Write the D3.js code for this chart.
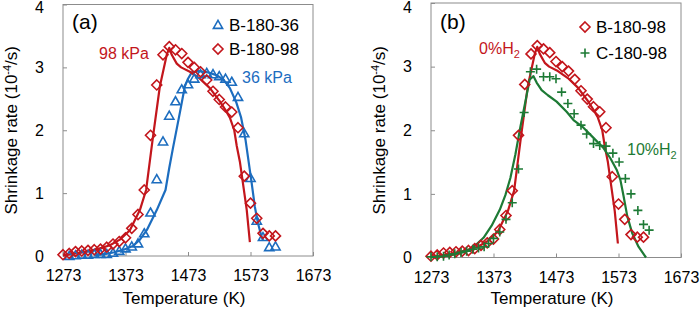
<!DOCTYPE html>
<html>
<head>
<meta charset="utf-8">
<script src="https://cdn.jsdelivr.net/npm/d3@7"></script>
<style>
  body { margin: 0; background: #fff; }
  svg { display: block; font-family: "Liberation Sans", Arial, sans-serif; }
  .tick line { stroke: #8c8c8c; }
  .tick text { font-size: 16px; fill: #000; }
</style>
</head>
<body>
<svg id="chart" width="700" height="312"></svg>
<script>
// measured points: [temperature K, rate 1e-4/s]
const b98Points = [
  [1273,0.02],[1283,0.04],[1293,0.07],[1303,0.08],[1313,0.09],[1323,0.10],[1333,0.11],
  [1343,0.14],[1353,0.19],[1363,0.23],[1373,0.29],[1383,0.44],[1393,0.66],[1403,1.05],
  [1413,1.92],[1423,2.72],[1433,3.20],[1443,3.33],[1453,3.28],[1463,3.22],[1473,3.08],
  [1483,3.00],[1493,2.93],[1503,2.80],[1513,2.62],[1523,2.49],[1533,2.37],[1543,2.29],
  [1553,2.04],[1563,1.27],[1573,0.84],[1583,0.60],[1593,0.36],[1603,0.32],[1613,0.32]
]
const b36Points = [
  [1283,0.00],[1293,0.01],[1303,0.02],[1313,0.02],[1323,0.03],[1333,0.03],[1343,0.03],
  [1353,0.05],[1363,0.08],[1373,0.12],[1383,0.15],[1393,0.20],[1403,0.36],[1413,0.69],
  [1423,1.22],[1433,1.82],[1443,2.23],[1453,2.46],[1463,2.65],[1473,2.73],[1483,2.82],
  [1493,2.89],[1503,2.91],[1513,2.89],[1523,2.86],[1533,2.82],[1543,2.77],[1553,2.53],
  [1563,1.95],[1573,1.24],[1583,0.56],[1593,0.30],[1603,0.14],[1613,0.15]
]
const c98Points = [
  [1273,0.01],[1283,0.01],[1293,0.02],[1302,0.04],[1311,0.06],[1321,0.08],[1330,0.10],
  [1340,0.13],[1349,0.15],[1358,0.17],[1365,0.22],[1373,0.30],[1383,0.40],[1393,0.60],
  [1403,0.86],[1413,1.39],[1422,2.28],[1432,2.92],[1442,2.96],[1453,2.84],[1463,2.84],
  [1473,2.81],[1482,2.60],[1492,2.42],[1502,2.26],[1513,2.08],[1522,1.94],[1533,1.79],
  [1543,1.76],[1553,1.75],[1564,1.64],[1574,1.50],[1584,1.24],[1593,1.00],[1604,0.74],
  [1613,0.52],[1622,0.43]
]

// calculated curves
const fit98Line = [
  [1273,0.01],[1300,0.05],[1320,0.09],[1335,0.13],[1348,0.17],[1364,0.26],[1380,0.41],
  [1396,0.73],[1406,1.05],[1417,1.90],[1428,2.70],[1439,3.20],[1443,3.31],[1447,3.20],
  [1455,3.06],[1462,3.00],[1476,2.93],[1492,2.82],[1508,2.67],[1524,2.46],[1533,2.32],
  [1540,2.20],[1547,2.00],[1551,1.75],[1556,1.50],[1561,1.15],[1567,0.73],[1572,0.22]
]
const fit36Line = [
  [1323,0.01],[1340,0.03],[1355,0.06],[1370,0.10],[1385,0.16],[1396,0.26],[1407,0.41],
  [1423,0.73],[1437,1.05],[1443,1.40],[1449,1.72],[1460,2.28],[1468,2.70],[1473,2.82],
  [1479,2.92],[1490,2.94],[1505,2.92],[1520,2.87],[1530,2.80],[1540,2.67],[1550,2.45],
  [1558,2.20],[1565,1.85],[1570,1.50],[1575,1.15],[1580,0.78],[1585,0.52],[1590,0.33],
  [1593,0.25]
]
const fitH2Line = [
  [1273,0.01],[1300,0.03],[1320,0.07],[1335,0.12],[1345,0.20],[1357,0.31],[1370,0.50],
  [1383,0.75],[1392,0.98],[1400,1.25],[1408,1.62],[1416,2.05],[1424,2.45],[1431,2.80],
  [1437,2.85],[1442,2.75],[1450,2.63],[1460,2.55],[1474,2.45],[1490,2.29],[1501,2.16],
  [1517,2.04],[1533,1.88],[1549,1.72],[1560,1.56],[1570,1.38],[1576,1.22],[1581,0.97],
  [1587,0.65],[1595,0.38],[1605,0.17],[1617,0.00]
]

const tempTicks = [1273, 1373, 1473, 1573, 1673]
const rateTicks = [0, 1, 2, 3, 4]

const red = '#c3161c', blue = '#1c6dbf', green = '#1d7a35'

const svg = d3.select('#chart')

// hollow marker shapes
const diamondPath = 'M0,-5L5,0L0,5L-5,0Z'
const trianglePath = 'M0,-4.6L4.6,3.4L-4.6,3.4Z'
const plusPath = 'M-4.5,0H4.5M0,-4.5V4.5'

function drawPanel(left, yBottom, yTop, tag) {
  let x = d3.scaleLinear().domain([1273, 1673]).range([left, left + 250])
  let y = d3.scaleLinear().domain([0, 4]).range([yBottom, yTop])
  let g = svg.append('g')

  g.append('g')
    .attr('transform', 'translate(0,' + yBottom + ')')
    .call(d3.axisBottom(x).tickValues(tempTicks).tickFormat(d3.format('d'))
      .tickSizeInner(-4).tickSizeOuter(0).tickPadding(14))
    .call(a => a.select('.domain').remove())

  g.append('g')
    .attr('transform', 'translate(' + left + ',0)')
    .call(d3.axisLeft(y).tickValues(rateTicks).tickFormat(d3.format('d'))
      .tickSizeInner(-4).tickSizeOuter(0).tickPadding(19))
    .call(a => a.select('.domain').remove())
    // top label sits a little lower so it is not cut at the page edge
    .call(a => a.selectAll('.tick text').filter(d => d === 4).attr('y', 7.6 - yTop))

  g.append('rect')
    .attr('x', left).attr('y', yTop)
    .attr('width', 250).attr('height', yBottom - yTop)
    .attr('fill', 'none').attr('stroke', '#8c8c8c')

  // axis titles
  g.append('text')
    .attr('x', left + 121).attr('y', 304)
    .attr('text-anchor', 'middle').attr('font-size', 17)
    .text('Temperature (K)')

  let yt = g.append('text')
    .attr('transform', 'translate(' + (left - 46) + ',' + ((yBottom + yTop) / 2) + ') rotate(-90)')
    .attr('text-anchor', 'middle').attr('font-size', 17)
  yt.append('tspan').text('Shrinkage rate (10')
  yt.append('tspan').attr('font-size', 11).attr('dy', -6).text('-4')
  yt.append('tspan').attr('dy', 6).text('/s)')

  g.append('text')
    .attr('x', left + 9).attr('y', 29)
    .attr('font-size', 21)
    .text(tag)

  return { g, x, y }
}

function addLine(p, pts, color) {
  p.g.append('path')
    .datum(pts)
    .attr('fill', 'none').attr('stroke', color).attr('stroke-width', 2.2)
    .attr('stroke-linejoin', 'round')
    .attr('d', d3.line().x(d => p.x(d[0])).y(d => p.y(d[1])))
}

function addMarkers(p, pts, shape, color) {
  p.g.append('g').selectAll('path')
    .data(pts)
    .enter().append('path')
    .attr('d', shape)
    .attr('transform', d => 'translate(' + p.x(d[0]) + ',' + p.y(d[1]) + ')')
    .attr('fill', 'none').attr('stroke', color).attr('stroke-width', 1.6)
}

function legendRow(p, lx, ly, shape, color, label) {
  p.g.append('path').attr('d', shape)
    .attr('transform', 'translate(' + lx + ',' + ly + ')')
    .attr('fill', 'none').attr('stroke', color).attr('stroke-width', 1.6)
  p.g.append('text').attr('x', lx + 11).attr('y', ly + 6)
    .attr('font-size', 17).text(label)
}

// panel (a): pressure
let pa = drawPanel(63, 256, 4.5, '(a)')
addLine(pa, fit36Line, blue)
addLine(pa, fit98Line, red)
addMarkers(pa, b36Points, trianglePath, blue)
addMarkers(pa, b98Points, diamondPath, red)
legendRow(pa, 218, 25, trianglePath, blue, 'B-180-36')
legendRow(pa, 218, 49, diamondPath, red, 'B-180-98')
pa.g.append('text').attr('x', 99).attr('y', 59).attr('font-size', 16)
  .attr('fill', red).text('98 kPa')
pa.g.append('text').attr('x', 242).attr('y', 83).attr('font-size', 16)
  .attr('fill', blue).text('36 kPa')

// panel (b): hydrogen
let pb = drawPanel(431, 257.5, 3, '(b)')
addLine(pb, fit98Line, red)
addLine(pb, fitH2Line, green)
addMarkers(pb, b98Points, diamondPath, red)
addMarkers(pb, c98Points, plusPath, green)
legendRow(pb, 585, 27, diamondPath, red, 'B-180-98')
legendRow(pb, 585, 53, plusPath, green, 'C-180-98')

let h0 = pb.g.append('text').attr('x', 479).attr('y', 54).attr('font-size', 16).attr('fill', red)
h0.append('tspan').text('0%H')
h0.append('tspan').attr('font-size', 11).attr('dy', 4).text('2')
let h10 = pb.g.append('text').attr('x', 627).attr('y', 155).attr('font-size', 16).attr('fill', green)
h10.append('tspan').text('10%H')
h10.append('tspan').attr('font-size', 11).attr('dy', 4).text('2')
</script>
</body>
</html>
